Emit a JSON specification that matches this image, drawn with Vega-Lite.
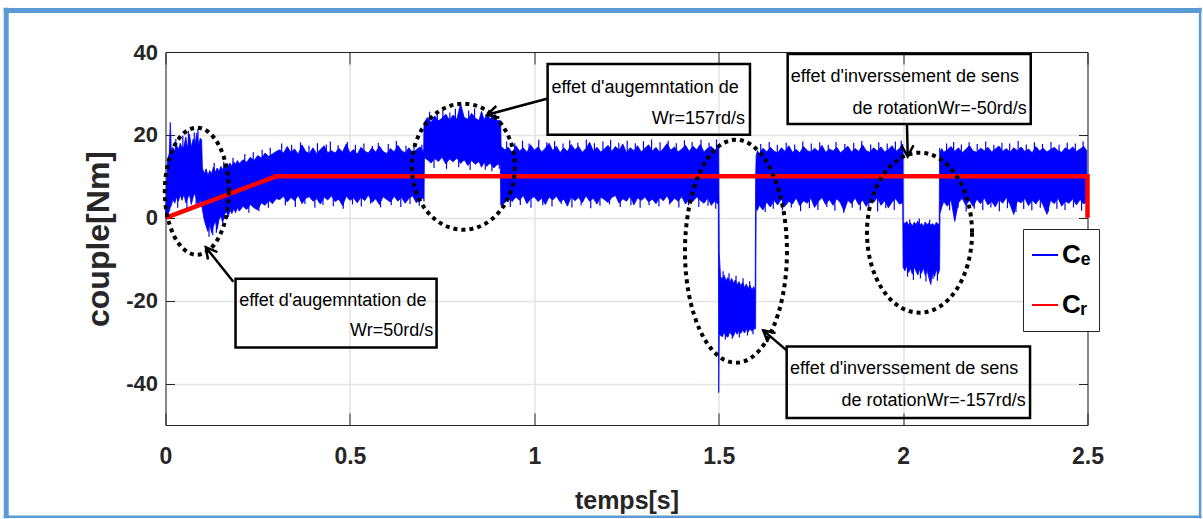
{
  "$schema": "https://vega.github.io/schema/vega-lite/v6.json",
  "width": 922,
  "height": 373,
  "autosize": {"type": "none"},
  "padding": {"left": 165.5, "top": 52, "right": 115.5, "bottom": 94},
  "background": "white",
  "config": {"view": {"stroke": null}, "font": "Liberation Sans"},
  "datasets": {
    "frame": [
      {"side": "top", "t": -0.4386, "v": 50.04, "t2": 2.8093, "v2": 50.04},
      {"side": "left", "t": -0.4318, "v": 50.69, "t2": -0.4318, "v2": -72.5},
      {"side": "right", "t": 2.8053, "v": 50.69, "t2": 2.8053, "v2": -72.5},
      {"side": "bottom", "t": -0.4386, "v": -72.13, "t2": 2.8093, "v2": -72.13}
    ],
    "ce": [
      {"t": 0, "lo": 0, "hi": 0.5},
      {"t": 0.003, "lo": 0.2, "hi": 8},
      {"t": 0.006, "lo": 1, "hi": 14},
      {"t": 0.01, "lo": 1.5, "hi": 15.5},
      {"t": 0.013, "lo": 2.5, "hi": 23},
      {"t": 0.016, "lo": 3, "hi": 16},
      {"t": 0.02, "lo": 4.5, "hi": 17},
      {"t": 0.025, "lo": 3.5, "hi": 16.2},
      {"t": 0.03, "lo": 5, "hi": 17.5},
      {"t": 0.035, "lo": 4, "hi": 16.4},
      {"t": 0.04, "lo": 5.5, "hi": 18},
      {"t": 0.045, "lo": 4.2, "hi": 16.8},
      {"t": 0.05, "lo": 5.8, "hi": 17.2},
      {"t": 0.055, "lo": 3.6, "hi": 19.5},
      {"t": 0.06, "lo": 4.8, "hi": 16.6},
      {"t": 0.065, "lo": 5.6, "hi": 20.2},
      {"t": 0.07, "lo": 3.2, "hi": 17},
      {"t": 0.075, "lo": 5, "hi": 19},
      {"t": 0.08, "lo": 6, "hi": 17.8},
      {"t": 0.085, "lo": 4, "hi": 20.5},
      {"t": 0.09, "lo": 2.6, "hi": 17.4},
      {"t": 0.094, "lo": 4.5, "hi": 19.2},
      {"t": 0.098, "lo": 3, "hi": 18.8},
      {"t": 0.1, "lo": 2, "hi": 12},
      {"t": 0.105, "lo": -0.5, "hi": 10.6},
      {"t": 0.11, "lo": -2, "hi": 11.8},
      {"t": 0.115, "lo": -3.3, "hi": 10.2},
      {"t": 0.12, "lo": -1.5, "hi": 11.4},
      {"t": 0.125, "lo": -3.6, "hi": 10.6},
      {"t": 0.13, "lo": -2, "hi": 12.2},
      {"t": 0.135, "lo": -0.8, "hi": 11},
      {"t": 0.14, "lo": -2.8, "hi": 12},
      {"t": 0.145, "lo": -0.5, "hi": 11.2},
      {"t": 0.15, "lo": 0.5, "hi": 12.4},
      {"t": 0.155, "lo": -1.2, "hi": 11.6},
      {"t": 0.16, "lo": 0.8, "hi": 12.8},
      {"t": 0.165, "lo": 1.5, "hi": 11.9},
      {"t": 0.17, "lo": 0.2, "hi": 12.6},
      {"t": 0.175, "lo": 1.8, "hi": 13.2},
      {"t": 0.18, "lo": 1, "hi": 12.4},
      {"t": 0.185, "lo": 2.2, "hi": 13.5},
      {"t": 0.19, "lo": 1.2, "hi": 12.9},
      {"t": 0.195, "lo": 2.5, "hi": 13.8},
      {"t": 0.2, "lo": 1.6, "hi": 13.1},
      {"t": 0.21, "lo": 2.8, "hi": 14},
      {"t": 0.22, "lo": 2, "hi": 13.4},
      {"t": 0.23, "lo": 3.2, "hi": 14.6},
      {"t": 0.24, "lo": 2.4, "hi": 13.8},
      {"t": 0.25, "lo": 1.9, "hi": 15},
      {"t": 0.26, "lo": 3.6, "hi": 14.4},
      {"t": 0.27, "lo": 3, "hi": 15.6},
      {"t": 0.28, "lo": 4.2, "hi": 14.8},
      {"t": 0.29, "lo": 3.4, "hi": 15.4},
      {"t": 0.3, "lo": 4.6, "hi": 16},
      {"t": 0.31, "lo": 4.4, "hi": 16.4},
      {"t": 0.32, "lo": 5.2, "hi": 15.6},
      {"t": 0.33, "lo": 3.8, "hi": 17.2},
      {"t": 0.34, "lo": 4.9, "hi": 15.8},
      {"t": 0.35, "lo": 4.1, "hi": 16.6},
      {"t": 0.36, "lo": 5.4, "hi": 15.3},
      {"t": 0.37, "lo": 3.4, "hi": 17.6},
      {"t": 0.38, "lo": 4.7, "hi": 16},
      {"t": 0.39, "lo": 5.1, "hi": 15.5},
      {"t": 0.4, "lo": 4, "hi": 16.9},
      {"t": 0.41, "lo": 4.6, "hi": 15.4},
      {"t": 0.42, "lo": 3.3, "hi": 16.5},
      {"t": 0.43, "lo": 5, "hi": 17.4},
      {"t": 0.44, "lo": 4.3, "hi": 15.7},
      {"t": 0.45, "lo": 5.3, "hi": 16.2},
      {"t": 0.46, "lo": 3.9, "hi": 15.6},
      {"t": 0.47, "lo": 4.5, "hi": 16.8},
      {"t": 0.48, "lo": 2.9, "hi": 15.9},
      {"t": 0.49, "lo": 5.2, "hi": 17.8},
      {"t": 0.5, "lo": 4.2, "hi": 15.7},
      {"t": 0.51, "lo": 4.8, "hi": 16.5},
      {"t": 0.52, "lo": 3.6, "hi": 15.3},
      {"t": 0.53, "lo": 5, "hi": 17},
      {"t": 0.54, "lo": 4.1, "hi": 16.1},
      {"t": 0.55, "lo": 5.5, "hi": 15.6},
      {"t": 0.56, "lo": 3.7, "hi": 16.9},
      {"t": 0.57, "lo": 4.6, "hi": 15.8},
      {"t": 0.58, "lo": 3.2, "hi": 17.3},
      {"t": 0.59, "lo": 5.1, "hi": 16},
      {"t": 0.6, "lo": 4.4, "hi": 15.5},
      {"t": 0.61, "lo": 3.8, "hi": 16.7},
      {"t": 0.62, "lo": 5.2, "hi": 15.9},
      {"t": 0.63, "lo": 4, "hi": 17.5},
      {"t": 0.64, "lo": 4.9, "hi": 16.2},
      {"t": 0.65, "lo": 3.5, "hi": 15.7},
      {"t": 0.66, "lo": 4.7, "hi": 16.9},
      {"t": 0.67, "lo": 5.3, "hi": 15.6},
      {"t": 0.68, "lo": 3.6, "hi": 16.4},
      {"t": 0.69, "lo": 4.5, "hi": 17.1},
      {"t": 0.7, "lo": 4.8, "hi": 16},
      {"t": 0.701, "lo": 4, "hi": 23},
      {"t": 0.702, "lo": 14.5, "hi": 23},
      {"t": 0.71, "lo": 14, "hi": 24.2},
      {"t": 0.72, "lo": 13.2, "hi": 23},
      {"t": 0.73, "lo": 14.3, "hi": 24.6},
      {"t": 0.74, "lo": 13.6, "hi": 23.4},
      {"t": 0.75, "lo": 14.6, "hi": 24},
      {"t": 0.76, "lo": 13, "hi": 25},
      {"t": 0.77, "lo": 14.2, "hi": 23.6},
      {"t": 0.78, "lo": 13.5, "hi": 24.8},
      {"t": 0.79, "lo": 14.4, "hi": 23.8},
      {"t": 0.8, "lo": 13.1, "hi": 27.5},
      {"t": 0.81, "lo": 14, "hi": 24.2},
      {"t": 0.82, "lo": 12.6, "hi": 23.8},
      {"t": 0.83, "lo": 13.8, "hi": 25.2},
      {"t": 0.84, "lo": 12.9, "hi": 24},
      {"t": 0.85, "lo": 13.6, "hi": 23.5},
      {"t": 0.857, "lo": 12.2, "hi": 25.7},
      {"t": 0.864, "lo": 13.4, "hi": 23.6},
      {"t": 0.871, "lo": 12.4, "hi": 25},
      {"t": 0.88, "lo": 13.2, "hi": 23.9},
      {"t": 0.89, "lo": 12, "hi": 24.6},
      {"t": 0.9, "lo": 12.9, "hi": 23.4},
      {"t": 0.908, "lo": 12.8, "hi": 23.5},
      {"t": 0.909, "lo": 3, "hi": 23},
      {"t": 0.91, "lo": 3, "hi": 17.2},
      {"t": 0.92, "lo": 3.6, "hi": 16.4},
      {"t": 0.93, "lo": 4.8, "hi": 17},
      {"t": 0.94, "lo": 3.9, "hi": 15.6},
      {"t": 0.95, "lo": 5, "hi": 17.4},
      {"t": 0.96, "lo": 4.2, "hi": 16.1},
      {"t": 0.97, "lo": 5.4, "hi": 16.9},
      {"t": 0.98, "lo": 3.4, "hi": 15.8},
      {"t": 0.99, "lo": 4.6, "hi": 17.6},
      {"t": 1, "lo": 5.1, "hi": 16.3},
      {"t": 1.01, "lo": 3.9, "hi": 17.1},
      {"t": 1.02, "lo": 4.7, "hi": 15.9},
      {"t": 1.03, "lo": 3.2, "hi": 16.8},
      {"t": 1.04, "lo": 5, "hi": 18},
      {"t": 1.05, "lo": 4.3, "hi": 16.2},
      {"t": 1.06, "lo": 5.2, "hi": 17.3},
      {"t": 1.07, "lo": 3.8, "hi": 15.7},
      {"t": 1.08, "lo": 4.5, "hi": 16.9},
      {"t": 1.09, "lo": 2.8, "hi": 16},
      {"t": 1.1, "lo": 5.1, "hi": 17.7},
      {"t": 1.11, "lo": 4.1, "hi": 16.4},
      {"t": 1.12, "lo": 4.9, "hi": 17.2},
      {"t": 1.13, "lo": 3.6, "hi": 15.8},
      {"t": 1.14, "lo": 5.3, "hi": 16.7},
      {"t": 1.15, "lo": 4, "hi": 18.2},
      {"t": 1.16, "lo": 4.7, "hi": 16.1},
      {"t": 1.17, "lo": 3.3, "hi": 17},
      {"t": 1.18, "lo": 5, "hi": 15.9},
      {"t": 1.19, "lo": 4.4, "hi": 16.6},
      {"t": 1.2, "lo": 3.7, "hi": 17.5},
      {"t": 1.21, "lo": 4.9, "hi": 16},
      {"t": 1.22, "lo": 5.4, "hi": 17.2},
      {"t": 1.23, "lo": 3.5, "hi": 16.3},
      {"t": 1.24, "lo": 4.6, "hi": 17.8},
      {"t": 1.25, "lo": 4, "hi": 15.7},
      {"t": 1.26, "lo": 5.2, "hi": 16.9},
      {"t": 1.27, "lo": 3.1, "hi": 16.2},
      {"t": 1.28, "lo": 4.8, "hi": 17.4},
      {"t": 1.29, "lo": 4.2, "hi": 15.9},
      {"t": 1.3, "lo": 5, "hi": 16.8},
      {"t": 1.31, "lo": 3.8, "hi": 17.6},
      {"t": 1.32, "lo": 4.5, "hi": 16.1},
      {"t": 1.33, "lo": 3.4, "hi": 17},
      {"t": 1.34, "lo": 4.9, "hi": 15.8},
      {"t": 1.35, "lo": 4.1, "hi": 16.7},
      {"t": 1.36, "lo": 5.3, "hi": 17.9},
      {"t": 1.37, "lo": 3.6, "hi": 16.3},
      {"t": 1.38, "lo": 4.7, "hi": 17.1},
      {"t": 1.39, "lo": 4, "hi": 15.9},
      {"t": 1.4, "lo": 5.1, "hi": 16.6},
      {"t": 1.41, "lo": 3.3, "hi": 17.5},
      {"t": 1.42, "lo": 4.6, "hi": 16},
      {"t": 1.43, "lo": 3.9, "hi": 17.3},
      {"t": 1.44, "lo": 5, "hi": 16.4},
      {"t": 1.45, "lo": 4.2, "hi": 17.7},
      {"t": 1.46, "lo": 3.5, "hi": 15.9},
      {"t": 1.47, "lo": 4.8, "hi": 16.8},
      {"t": 1.48, "lo": 3, "hi": 17.2},
      {"t": 1.49, "lo": 4.1, "hi": 16.1},
      {"t": 1.499, "lo": 3.2, "hi": 17.6},
      {"t": 1.5, "lo": -42.2, "hi": 16.5},
      {"t": 1.5015, "lo": -28, "hi": -8.5},
      {"t": 1.505, "lo": -28.4, "hi": -14.2},
      {"t": 1.51, "lo": -28.7, "hi": -14.8},
      {"t": 1.515, "lo": -27.6, "hi": -13.9},
      {"t": 1.52, "lo": -28.5, "hi": -15.2},
      {"t": 1.525, "lo": -28.8, "hi": -14.4},
      {"t": 1.53, "lo": -27.5, "hi": -15.6},
      {"t": 1.535, "lo": -28.3, "hi": -14.6},
      {"t": 1.54, "lo": -28.6, "hi": -15.8},
      {"t": 1.545, "lo": -27.4, "hi": -15},
      {"t": 1.55, "lo": -28.1, "hi": -16.2},
      {"t": 1.555, "lo": -27.2, "hi": -15.4},
      {"t": 1.56, "lo": -27.9, "hi": -16.4},
      {"t": 1.565, "lo": -27.1, "hi": -15.6},
      {"t": 1.57, "lo": -27.8, "hi": -16.8},
      {"t": 1.575, "lo": -26.9, "hi": -16},
      {"t": 1.58, "lo": -27.5, "hi": -17},
      {"t": 1.585, "lo": -26.8, "hi": -16.3},
      {"t": 1.59, "lo": -27.4, "hi": -17.4},
      {"t": 1.595, "lo": -26.7, "hi": -16.6},
      {"t": 1.599, "lo": -26.9, "hi": -17.8},
      {"t": 1.6, "lo": -26.5, "hi": 8.5},
      {"t": 1.6015, "lo": 2, "hi": 15},
      {"t": 1.605, "lo": 1.8, "hi": 16.2},
      {"t": 1.61, "lo": 3, "hi": 15.4},
      {"t": 1.62, "lo": 1.9, "hi": 16.8},
      {"t": 1.63, "lo": 3.8, "hi": 15.9},
      {"t": 1.64, "lo": 2.6, "hi": 17},
      {"t": 1.65, "lo": 4.2, "hi": 16.1},
      {"t": 1.66, "lo": 3.1, "hi": 15.6},
      {"t": 1.67, "lo": 4.6, "hi": 16.9},
      {"t": 1.68, "lo": 2.8, "hi": 16},
      {"t": 1.69, "lo": 4, "hi": 17.4},
      {"t": 1.7, "lo": 3.3, "hi": 15.8},
      {"t": 1.71, "lo": 4.8, "hi": 16.5},
      {"t": 1.72, "lo": 2.9, "hi": 15.7},
      {"t": 1.73, "lo": 4.1, "hi": 17.2},
      {"t": 1.74, "lo": 3.5, "hi": 16.2},
      {"t": 1.75, "lo": 4.7, "hi": 15.9},
      {"t": 1.76, "lo": 2.5, "hi": 16.8},
      {"t": 1.77, "lo": 3.9, "hi": 16},
      {"t": 1.78, "lo": 4.9, "hi": 17.5},
      {"t": 1.79, "lo": 3.2, "hi": 15.8},
      {"t": 1.8, "lo": 4.4, "hi": 16.6},
      {"t": 1.81, "lo": 3, "hi": 16.1},
      {"t": 1.82, "lo": 4.6, "hi": 17},
      {"t": 1.83, "lo": 3.6, "hi": 15.7},
      {"t": 1.84, "lo": 1.6, "hi": 16.4},
      {"t": 1.85, "lo": 4.2, "hi": 17.3},
      {"t": 1.86, "lo": 3.4, "hi": 15.9},
      {"t": 1.87, "lo": 4.8, "hi": 16.7},
      {"t": 1.88, "lo": 3.1, "hi": 16},
      {"t": 1.89, "lo": 4.3, "hi": 17.6},
      {"t": 1.9, "lo": 2.7, "hi": 16.2},
      {"t": 1.91, "lo": 4.5, "hi": 15.8},
      {"t": 1.92, "lo": 3.7, "hi": 16.9},
      {"t": 1.93, "lo": 4.9, "hi": 16.1},
      {"t": 1.94, "lo": 3, "hi": 17.1},
      {"t": 1.95, "lo": 4.1, "hi": 15.9},
      {"t": 1.96, "lo": 2.4, "hi": 16.5},
      {"t": 1.97, "lo": 3.8, "hi": 17.4},
      {"t": 1.98, "lo": 4.6, "hi": 16},
      {"t": 1.99, "lo": 3.3, "hi": 16.7},
      {"t": 1.999, "lo": 3.6, "hi": 17.8},
      {"t": 2, "lo": -12, "hi": 16},
      {"t": 2.0005, "lo": -12, "hi": -1},
      {"t": 2.005, "lo": -12.8, "hi": -1.4},
      {"t": 2.01, "lo": -11.6, "hi": -0.9},
      {"t": 2.015, "lo": -13.2, "hi": -1.8},
      {"t": 2.02, "lo": -12.2, "hi": -1.2},
      {"t": 2.025, "lo": -13.6, "hi": -2},
      {"t": 2.03, "lo": -11.9, "hi": -1.1},
      {"t": 2.035, "lo": -12.9, "hi": -1.6},
      {"t": 2.04, "lo": -13.8, "hi": -0.8},
      {"t": 2.045, "lo": -12.4, "hi": -1.9},
      {"t": 2.05, "lo": -13.4, "hi": -1.3},
      {"t": 2.055, "lo": -12, "hi": -2.1},
      {"t": 2.06, "lo": -13.9, "hi": -1},
      {"t": 2.065, "lo": -12.6, "hi": -1.7},
      {"t": 2.07, "lo": -14.5, "hi": -1.2},
      {"t": 2.075, "lo": -16.1, "hi": -1.8},
      {"t": 2.08, "lo": -13, "hi": -1.4},
      {"t": 2.085, "lo": -14.2, "hi": -2},
      {"t": 2.09, "lo": -12.5, "hi": -1.1},
      {"t": 2.095, "lo": -13.6, "hi": -1.6},
      {"t": 2.098, "lo": -12.8, "hi": -1.3},
      {"t": 2.099, "lo": -12.5, "hi": 16.8},
      {"t": 2.1, "lo": 1, "hi": 15.9},
      {"t": 2.105, "lo": 2.6, "hi": 16.7},
      {"t": 2.11, "lo": 3.9, "hi": 15.8},
      {"t": 2.12, "lo": 2.8, "hi": 16.4},
      {"t": 2.13, "lo": 4.3, "hi": 17.2},
      {"t": 2.14, "lo": -0.9, "hi": 16},
      {"t": 2.15, "lo": 3.6, "hi": 16.9},
      {"t": 2.16, "lo": 4.7, "hi": 15.7},
      {"t": 2.17, "lo": 3, "hi": 16.5},
      {"t": 2.18, "lo": 4.2, "hi": 17.4},
      {"t": 2.19, "lo": 2.7, "hi": 16.1},
      {"t": 2.2, "lo": 4.5, "hi": 15.8},
      {"t": 2.21, "lo": 3.4, "hi": 16.8},
      {"t": 2.22, "lo": 4.8, "hi": 16.2},
      {"t": 2.23, "lo": 3.1, "hi": 17},
      {"t": 2.24, "lo": 4, "hi": 15.9},
      {"t": 2.25, "lo": 2.6, "hi": 16.6},
      {"t": 2.26, "lo": 4.4, "hi": 17.3},
      {"t": 2.27, "lo": 3.5, "hi": 16},
      {"t": 2.28, "lo": 4.9, "hi": 16.7},
      {"t": 2.29, "lo": 3.2, "hi": 15.8},
      {"t": 2.3, "lo": 0.8, "hi": 16.9},
      {"t": 2.31, "lo": 4.1, "hi": 16.2},
      {"t": 2.32, "lo": 3.6, "hi": 17.1},
      {"t": 2.33, "lo": 4.7, "hi": 16},
      {"t": 2.34, "lo": 2.9, "hi": 16.6},
      {"t": 2.35, "lo": 4.3, "hi": 15.7},
      {"t": 2.36, "lo": 3.3, "hi": 17.2},
      {"t": 2.37, "lo": 4.6, "hi": 16.1},
      {"t": 2.38, "lo": 3, "hi": 16.8},
      {"t": 2.39, "lo": 0.8, "hi": 15.9},
      {"t": 2.4, "lo": 4.2, "hi": 16.5},
      {"t": 2.41, "lo": 3.4, "hi": 17},
      {"t": 2.42, "lo": 4.8, "hi": 16.2},
      {"t": 2.43, "lo": 2.8, "hi": 15.8},
      {"t": 2.44, "lo": 4, "hi": 16.9},
      {"t": 2.45, "lo": 3.5, "hi": 16.3},
      {"t": 2.46, "lo": 4.6, "hi": 17.1},
      {"t": 2.47, "lo": 3.1, "hi": 16},
      {"t": 2.48, "lo": 4.4, "hi": 16.6},
      {"t": 2.49, "lo": 3.3, "hi": 17.2},
      {"t": 2.498, "lo": 4, "hi": 16.2}
    ],
    "spikes": [
      {"t": 0.028, "a": 12, "b": 19.0}, {"t": 0.047, "a": 12, "b": 19.8}, {"t": 0.062, "a": 12, "b": 21.0},
      {"t": 0.078, "a": 12, "b": 20.6}, {"t": 0.088, "a": 12, "b": 21.5},
      {"t": 0.033, "a": 8, "b": 2.4}, {"t": 0.058, "a": 8, "b": 2.0}, {"t": 0.083, "a": 8, "b": 2.6},
      {"t": 0.118, "a": 4, "b": -4.6}, {"t": 0.128, "a": 4, "b": -4.2}, {"t": 0.138, "a": 4, "b": -3.6},
      {"t": 0.132, "a": 8, "b": 13.2}, {"t": 0.158, "a": 8, "b": 13.5}, {"t": 0.183, "a": 8, "b": 14.5},
      {"t": 0.215, "a": 10, "b": 15.4}, {"t": 0.238, "a": 10, "b": 15.8}, {"t": 0.262, "a": 10, "b": 16.4},
      {"t": 0.284, "a": 10, "b": 16.9}, {"t": 0.226, "a": 7, "b": 1.2}, {"t": 0.253, "a": 7, "b": 1.6},
      {"t": 0.279, "a": 7, "b": 2.4},
      {"t": 0.315, "a": 12, "b": 17.9}, {"t": 0.342, "a": 12, "b": 17.6}, {"t": 0.366, "a": 12, "b": 18.2},
      {"t": 0.389, "a": 12, "b": 17.4}, {"t": 0.412, "a": 12, "b": 18.0}, {"t": 0.436, "a": 12, "b": 17.7},
      {"t": 0.447, "a": 12, "b": 18.4}, {"t": 0.468, "a": 12, "b": 17.5}, {"t": 0.493, "a": 12, "b": 18.3},
      {"t": 0.515, "a": 12, "b": 17.6}, {"t": 0.538, "a": 12, "b": 17.9}, {"t": 0.561, "a": 12, "b": 17.3},
      {"t": 0.577, "a": 12, "b": 18.1}, {"t": 0.604, "a": 12, "b": 17.8}, {"t": 0.626, "a": 12, "b": 18.5},
      {"t": 0.652, "a": 12, "b": 17.4}, {"t": 0.674, "a": 12, "b": 18.0}, {"t": 0.695, "a": 12, "b": 17.6},
      {"t": 0.325, "a": 8, "b": 3.0}, {"t": 0.352, "a": 8, "b": 2.6}, {"t": 0.378, "a": 8, "b": 3.3},
      {"t": 0.405, "a": 8, "b": 2.4}, {"t": 0.427, "a": 8, "b": 3.1}, {"t": 0.455, "a": 8, "b": 2.8},
      {"t": 0.482, "a": 8, "b": 2.2}, {"t": 0.507, "a": 8, "b": 3.2}, {"t": 0.531, "a": 8, "b": 2.7},
      {"t": 0.556, "a": 8, "b": 3.4}, {"t": 0.583, "a": 8, "b": 2.5}, {"t": 0.612, "a": 8, "b": 3.0},
      {"t": 0.638, "a": 8, "b": 2.6}, {"t": 0.663, "a": 8, "b": 3.3}, {"t": 0.688, "a": 8, "b": 2.9},
      {"t": 0.716, "a": 19, "b": 25.6}, {"t": 0.737, "a": 19, "b": 25.2}, {"t": 0.752, "a": 19, "b": 26.0},
      {"t": 0.771, "a": 19, "b": 25.4}, {"t": 0.786, "a": 19, "b": 26.3}, {"t": 0.822, "a": 19, "b": 25.9},
      {"t": 0.838, "a": 19, "b": 26.4}, {"t": 0.893, "a": 19, "b": 25.5},
      {"t": 0.728, "a": 18, "b": 12.0}, {"t": 0.762, "a": 18, "b": 11.8}, {"t": 0.795, "a": 18, "b": 12.2},
      {"t": 0.826, "a": 18, "b": 11.5}, {"t": 0.867, "a": 18, "b": 11.6}, {"t": 0.885, "a": 18, "b": 11.2},
      {"t": 0.905, "a": 18, "b": 11.8},
      {"t": 0.925, "a": 12, "b": 18.4}, {"t": 0.947, "a": 12, "b": 18.0}, {"t": 0.968, "a": 12, "b": 18.6},
      {"t": 0.986, "a": 12, "b": 17.9}, {"t": 1.012, "a": 12, "b": 18.8}, {"t": 1.034, "a": 12, "b": 18.2},
      {"t": 1.055, "a": 12, "b": 18.5}, {"t": 1.078, "a": 12, "b": 17.9}, {"t": 1.096, "a": 12, "b": 18.7},
      {"t": 1.118, "a": 12, "b": 18.1}, {"t": 1.141, "a": 12, "b": 18.9}, {"t": 1.163, "a": 12, "b": 18.0},
      {"t": 1.186, "a": 12, "b": 18.4}, {"t": 1.207, "a": 12, "b": 18.8}, {"t": 1.229, "a": 12, "b": 18.1},
      {"t": 1.252, "a": 12, "b": 18.6}, {"t": 1.274, "a": 12, "b": 18.0}, {"t": 1.296, "a": 12, "b": 18.5},
      {"t": 1.318, "a": 12, "b": 18.9}, {"t": 1.341, "a": 12, "b": 18.2}, {"t": 1.363, "a": 12, "b": 18.6},
      {"t": 1.385, "a": 12, "b": 18.0}, {"t": 1.407, "a": 12, "b": 18.7}, {"t": 1.428, "a": 12, "b": 18.3},
      {"t": 1.452, "a": 12, "b": 18.8}, {"t": 1.474, "a": 12, "b": 18.1}, {"t": 1.494, "a": 12, "b": 18.9},
      {"t": 0.935, "a": 8, "b": 2.6}, {"t": 0.962, "a": 8, "b": 3.1}, {"t": 0.991, "a": 8, "b": 2.4},
      {"t": 1.023, "a": 8, "b": 3.0}, {"t": 1.048, "a": 8, "b": 2.7}, {"t": 1.073, "a": 8, "b": 3.3},
      {"t": 1.102, "a": 8, "b": 2.5}, {"t": 1.127, "a": 8, "b": 3.0}, {"t": 1.153, "a": 8, "b": 2.3},
      {"t": 1.178, "a": 8, "b": 2.9}, {"t": 1.204, "a": 8, "b": 3.2}, {"t": 1.233, "a": 8, "b": 2.6},
      {"t": 1.262, "a": 8, "b": 3.0}, {"t": 1.287, "a": 8, "b": 2.4}, {"t": 1.311, "a": 8, "b": 3.1},
      {"t": 1.338, "a": 8, "b": 2.7}, {"t": 1.367, "a": 8, "b": 3.2}, {"t": 1.392, "a": 8, "b": 2.5},
      {"t": 1.418, "a": 8, "b": 3.0}, {"t": 1.446, "a": 8, "b": 2.6}, {"t": 1.471, "a": 8, "b": 2.9},
      {"t": 1.492, "a": 8, "b": 2.2},
      {"t": 1.512, "a": -21, "b": -12.9}, {"t": 1.528, "a": -21, "b": -13.4}, {"t": 1.547, "a": -21, "b": -14.0},
      {"t": 1.566, "a": -21, "b": -14.6}, {"t": 1.584, "a": -21, "b": -15.3},
      {"t": 1.518, "a": -21, "b": -29.4}, {"t": 1.537, "a": -21, "b": -29.2}, {"t": 1.556, "a": -21, "b": -28.9},
      {"t": 1.578, "a": -21, "b": -28.4}, {"t": 1.593, "a": -21, "b": -28.1},
      {"t": 1.614, "a": 12, "b": 17.8}, {"t": 1.637, "a": 12, "b": 18.3}, {"t": 1.659, "a": 12, "b": 17.6},
      {"t": 1.683, "a": 12, "b": 18.1}, {"t": 1.706, "a": 12, "b": 17.7}, {"t": 1.728, "a": 12, "b": 18.4},
      {"t": 1.751, "a": 12, "b": 17.9}, {"t": 1.774, "a": 12, "b": 18.2}, {"t": 1.797, "a": 12, "b": 17.6},
      {"t": 1.818, "a": 12, "b": 18.3}, {"t": 1.842, "a": 12, "b": 17.8}, {"t": 1.866, "a": 12, "b": 18.1},
      {"t": 1.888, "a": 12, "b": 18.5}, {"t": 1.912, "a": 12, "b": 17.7}, {"t": 1.934, "a": 12, "b": 18.2},
      {"t": 1.957, "a": 12, "b": 17.9}, {"t": 1.979, "a": 12, "b": 18.4}, {"t": 1.995, "a": 12, "b": 18.6},
      {"t": 1.626, "a": 8, "b": 1.4}, {"t": 1.648, "a": 8, "b": 2.2}, {"t": 1.673, "a": 8, "b": 1.8},
      {"t": 1.697, "a": 8, "b": 2.5}, {"t": 1.722, "a": 8, "b": 1.6}, {"t": 1.746, "a": 8, "b": 2.3},
      {"t": 1.769, "a": 8, "b": 1.9}, {"t": 1.793, "a": 8, "b": 2.6}, {"t": 1.815, "a": 8, "b": 1.7},
      {"t": 1.839, "a": 8, "b": 1.2}, {"t": 1.862, "a": 8, "b": 2.4}, {"t": 1.884, "a": 8, "b": 1.8},
      {"t": 1.907, "a": 8, "b": 2.2}, {"t": 1.931, "a": 8, "b": 1.5}, {"t": 1.953, "a": 8, "b": 2.3},
      {"t": 1.976, "a": 8, "b": 1.9},
      {"t": 2.012, "a": -7, "b": -14.2}, {"t": 2.028, "a": -7, "b": -15.0}, {"t": 2.047, "a": -7, "b": -14.6},
      {"t": 2.062, "a": -7, "b": -15.4}, {"t": 2.081, "a": -7, "b": -14.8}, {"t": 2.093, "a": -7, "b": -15.2},
      {"t": 2.018, "a": -7, "b": -0.4}, {"t": 2.044, "a": -7, "b": -0.2}, {"t": 2.072, "a": -7, "b": -0.5},
      {"t": 2.118, "a": 12, "b": 17.9}, {"t": 2.137, "a": 12, "b": 18.3}, {"t": 2.158, "a": 12, "b": 17.7},
      {"t": 2.179, "a": 12, "b": 18.2}, {"t": 2.201, "a": 12, "b": 17.8}, {"t": 2.224, "a": 12, "b": 18.4},
      {"t": 2.246, "a": 12, "b": 17.6}, {"t": 2.268, "a": 12, "b": 18.1}, {"t": 2.289, "a": 12, "b": 17.9},
      {"t": 2.312, "a": 12, "b": 18.5}, {"t": 2.334, "a": 12, "b": 17.7}, {"t": 2.356, "a": 12, "b": 18.2},
      {"t": 2.378, "a": 12, "b": 17.8}, {"t": 2.401, "a": 12, "b": 18.3}, {"t": 2.423, "a": 12, "b": 17.6},
      {"t": 2.445, "a": 12, "b": 18.1}, {"t": 2.467, "a": 12, "b": 17.9}, {"t": 2.488, "a": 12, "b": 18.4},
      {"t": 2.126, "a": 8, "b": 1.8}, {"t": 2.149, "a": 8, "b": 2.4}, {"t": 2.171, "a": 8, "b": 1.5},
      {"t": 2.193, "a": 8, "b": 2.2}, {"t": 2.216, "a": 8, "b": 1.9}, {"t": 2.238, "a": 8, "b": 2.5},
      {"t": 2.261, "a": 8, "b": 1.6}, {"t": 2.283, "a": 8, "b": 2.3}, {"t": 2.306, "a": 8, "b": 1.4},
      {"t": 2.327, "a": 8, "b": 2.1}, {"t": 2.349, "a": 8, "b": 1.8}, {"t": 2.372, "a": 8, "b": 2.4},
      {"t": 2.394, "a": 8, "b": 1.5}, {"t": 2.417, "a": 8, "b": 2.2}, {"t": 2.439, "a": 8, "b": 1.9},
      {"t": 2.462, "a": 8, "b": 2.5}, {"t": 2.484, "a": 8, "b": 1.7}
    ],
    "cr": [
      {"k": 0, "t": 0, "v": 0},
      {"k": 1, "t": 0.3, "v": 10},
      {"k": 2, "t": 2.5, "v": 10},
      {"k": 3, "t": 2.5, "v": 0}
    ],
    "rings": [
      {"id": 1, "t": 0.0849, "v": 6.41},
      {"id": 2, "t": 0.8077, "v": 12.32},
      {"id": 3, "t": 1.5468, "v": -8.07},
      {"id": 4, "t": 2.0445, "v": -3.6}
    ],
    "arrows": [
      {"t": 1.0342, "v": 28.73, "t2": 0.8723, "v2": 24.87},
      {"t": 2.0105, "v": 22.63, "t2": 2.0125, "v2": 14.81},
      {"t": 0.1839, "v": -15.42, "t2": 0.1093, "v2": -7.1},
      {"t": 1.6843, "v": -32.0, "t2": 1.6208, "v2": -27.17}
    ],
    "boxes": [
      {"t": 1.0361, "t2": 1.5848, "v": 37.1, "v2": 20.02},
      {"t": 1.687, "t2": 2.3461, "v": 39.52, "v2": 22.63},
      {"t": 0.1899, "t2": 0.735, "v": -14.7, "v2": -31.28},
      {"t": 1.6843, "t2": 2.3442, "v": -31.03, "v2": -48.31}
    ],
    "notes": [
      {"line": 1, "t": 1.0464, "v": 30.1, "txt": "effet d'augemntation de"},
      {"line": 2, "t": 1.5712, "v": 22.7, "txt": "Wr=157rd/s"},
      {"line": 1, "t": 1.6954, "v": 32.67, "txt": "effet d'inverssement de sens"},
      {"line": 2, "t": 2.3352, "v": 25.04, "txt": "de rotationWr=-50rd/s"},
      {"line": 1, "t": 0.1997, "v": -21.38, "txt": "effet d'augemntation de"},
      {"line": 2, "t": 0.7258, "v": -28.45, "txt": "Wr=50rd/s"},
      {"line": 1, "t": 1.6932, "v": -37.62, "txt": "effet d'inverssement de sens"},
      {"line": 2, "t": 2.3325, "v": -45.34, "txt": "de rotationWr=-157rd/s"}
    ]
  },
  "resolve": {"axis": {"x": "independent", "y": "independent"}},
  "layer": [
    {
      "data": {"name": "frame"},
      "transform": [{"filter": "datum.side == 'top' || datum.side == 'left'"}],
      "mark": {"type": "rule", "color": "#5b9bd5", "strokeWidth": 5},
      "encoding": {
        "x": {"field": "t", "type": "quantitative", "scale": {"domain": [0, 2.5], "nice": false, "zero": false}, "axis": null},
        "y": {"field": "v", "type": "quantitative", "scale": {"domain": [-50, 40], "nice": false, "zero": false}, "axis": null},
        "x2": {"field": "t2"},
        "y2": {"field": "v2"}
      }
    },
    {
      "data": {"name": "frame"},
      "transform": [{"filter": "datum.side == 'right' || datum.side == 'bottom'"}],
      "mark": {"type": "rule", "color": "#5b9bd5", "strokeWidth": 2.5},
      "encoding": {
        "x": {"field": "t", "type": "quantitative", "scale": {"domain": [0, 2.5], "nice": false, "zero": false}, "axis": null},
        "y": {"field": "v", "type": "quantitative", "scale": {"domain": [-50, 40], "nice": false, "zero": false}, "axis": null},
        "x2": {"field": "t2"},
        "y2": {"field": "v2"}
      }
    },
    {
      "data": {"name": "ce"},
      "mark": {"type": "area", "stroke": "#0000ff", "strokeWidth": 0.8, "opacity": 1},
      "encoding": {
        "x": {
          "field": "t", "type": "quantitative",
          "scale": {"domain": [0, 2.5], "nice": false, "zero": false},
          "axis": {
            "orient": "bottom", "values": [0, 0.5, 1, 1.5, 2, 2.5],
            "labelExpr": "'' + datum.value", "labelFlush": false, "labelOverlap": false,
            "title": "temps[s]",
            "grid": true, "gridColor": "#e3e3e3", "gridWidth": 1.5,
            "tickSize": -12, "tickColor": "#262626", "tickWidth": 1,
            "domainColor": "#262626", "domainWidth": 1,
            "labelFont": "Liberation Sans", "labelFontSize": 23, "labelFontWeight": "bold", "labelColor": "#262626", "labelPadding": 32,
            "titleFont": "Liberation Sans", "titleFontSize": 25, "titleFontWeight": "bold", "titleColor": "#262626", "titlePadding": 20
          }
        },
        "y": {
          "field": "lo", "type": "quantitative",
          "scale": {"domain": [-50, 40], "nice": false, "zero": false},
          "axis": {
            "orient": "left", "values": [-40, -20, 0, 20, 40],
            "labelExpr": "'' + datum.value", "labelOverlap": false,
            "title": "couple[Nm]",
            "grid": true, "gridColor": "#e3e3e3", "gridWidth": 1.5,
            "tickSize": -9, "tickColor": "#262626", "tickWidth": 1,
            "domainColor": "#262626", "domainWidth": 1,
            "labelFont": "Liberation Sans", "labelFontSize": 22, "labelFontWeight": "bold", "labelColor": "#262626", "labelPadding": 17,
            "titleFont": "Liberation Sans", "titleFontSize": 32, "titleFontWeight": "bold", "titleColor": "#262626", "titlePadding": 10
          }
        },
        "y2": {"field": "hi"},
        "color": {
          "datum": "Ce", "type": "nominal",
          "scale": {"domain": ["Ce", "Cr"], "range": ["#0000ff", "#ff0000"]},
          "legend": {
            "orient": "none", "legendX": 857.5, "legendY": 177, "title": null,
            "symbolType": "stroke", "symbolSize": 676, "symbolStrokeWidth": 2,
            "labelExpr": "datum.value == 'Ce' ? 'Cₑ' : 'Cᵣ'",
            "labelFont": "Liberation Sans", "labelFontSize": 26, "labelFontWeight": "bold", "labelColor": "#000000", "labelOffset": 3,
            "padding": 8, "rowPadding": 14, "clipHeight": 36,
            "strokeColor": "#262626", "fillColor": "#ffffff",
            "encode": {
              "symbols": {
                "update": {
                  "stroke": {"signal": "datum.value == 'Cr' ? '#ff0000' : '#0000ff'"},
                  "strokeWidth": {"signal": "datum.value == 'Cr' ? 5 : 2"},
                  "fill": {"value": "transparent"}
                }
              }
            }
          }
        }
      }
    },
    {
      "data": {"name": "spikes"},
      "mark": {"type": "rule", "color": "#0000ff", "strokeWidth": 1.2},
      "encoding": {
        "x": {"field": "t", "type": "quantitative", "scale": {"domain": [0, 2.5], "nice": false, "zero": false}, "axis": null},
        "y": {"field": "a", "type": "quantitative", "scale": {"domain": [-50, 40], "nice": false, "zero": false}, "axis": null},
        "y2": {"field": "b"}
      }
    },
    {
      "data": {"name": "cr"},
      "mark": {"type": "line", "strokeWidth": 4.5},
      "encoding": {
        "x": {
          "field": "t", "type": "quantitative",
          "scale": {"domain": [0, 2.5], "nice": false, "zero": false},
          "axis": {"orient": "top", "values": [0, 0.5, 1, 1.5, 2, 2.5], "labels": false, "grid": false, "title": null, "tickSize": -12, "tickColor": "#262626", "domainColor": "#262626", "domainWidth": 1}
        },
        "y": {
          "field": "v", "type": "quantitative",
          "scale": {"domain": [-50, 40], "nice": false, "zero": false},
          "axis": {"orient": "right", "values": [-40, -20, 0, 20, 40], "labels": false, "grid": false, "title": null, "tickSize": -9, "tickColor": "#262626", "domainColor": "#262626", "domainWidth": 1}
        },
        "order": {"field": "k", "type": "quantitative"},
        "color": {"datum": "Cr", "type": "nominal", "scale": {"domain": ["Ce", "Cr"], "range": ["#0000ff", "#ff0000"]}}
      }
    },
    {
      "data": {"name": "rings"},
      "transform": [{"filter": "datum.id == 1"}],
      "mark": {"type": "point", "shape": "M 0.32 0 C 0.32 0.3507 0.1767 0.635 0 0.635 C -0.1767 0.635 -0.32 0.3507 -0.32 0 C -0.32 -0.3507 -0.1767 -0.635 0 -0.635 C 0.1767 -0.635 0.32 -0.3507 0.32 0 Z", "size": 40000, "filled": false, "stroke": "#000000", "strokeWidth": 4, "strokeDash": [4, 4], "opacity": 1},
      "encoding": {
        "x": {"field": "t", "type": "quantitative", "scale": {"domain": [0, 2.5], "nice": false, "zero": false}, "axis": null},
        "y": {"field": "v", "type": "quantitative", "scale": {"domain": [-50, 40], "nice": false, "zero": false}, "axis": null}
      }
    },
    {
      "data": {"name": "rings"},
      "transform": [{"filter": "datum.id == 2"}],
      "mark": {"type": "point", "shape": "M 0.515 0 C 0.515 0.3479 0.2844 0.63 0 0.63 C -0.2844 0.63 -0.515 0.3479 -0.515 0 C -0.515 -0.3479 -0.2844 -0.63 0 -0.63 C 0.2844 -0.63 0.515 -0.3479 0.515 0 Z", "size": 40000, "filled": false, "stroke": "#000000", "strokeWidth": 4, "strokeDash": [4, 4], "opacity": 1},
      "encoding": {
        "x": {"field": "t", "type": "quantitative", "scale": {"domain": [0, 2.5], "nice": false, "zero": false}, "axis": null},
        "y": {"field": "v", "type": "quantitative", "scale": {"domain": [-50, 40], "nice": false, "zero": false}, "axis": null}
      }
    },
    {
      "data": {"name": "rings"},
      "transform": [{"filter": "datum.id == 3"}],
      "mark": {"type": "point", "shape": "M 0.51 0 C 0.51 0.6158 0.2817 1.115 0 1.115 C -0.2817 1.115 -0.51 0.6158 -0.51 0 C -0.51 -0.6158 -0.2817 -1.115 0 -1.115 C 0.2817 -1.115 0.51 -0.6158 0.51 0 Z", "size": 40000, "filled": false, "stroke": "#000000", "strokeWidth": 4, "strokeDash": [4, 4], "opacity": 1},
      "encoding": {
        "x": {"field": "t", "type": "quantitative", "scale": {"domain": [0, 2.5], "nice": false, "zero": false}, "axis": null},
        "y": {"field": "v", "type": "quantitative", "scale": {"domain": [-50, 40], "nice": false, "zero": false}, "axis": null}
      }
    },
    {
      "data": {"name": "rings"},
      "transform": [{"filter": "datum.id == 4"}],
      "mark": {"type": "point", "shape": "M 0.525 0 C 0.525 0.4418 0.29 0.8 0 0.8 C -0.29 0.8 -0.525 0.4418 -0.525 0 C -0.525 -0.4418 -0.29 -0.8 0 -0.8 C 0.29 -0.8 0.525 -0.4418 0.525 0 Z", "size": 40000, "filled": false, "stroke": "#000000", "strokeWidth": 4, "strokeDash": [4, 4], "opacity": 1},
      "encoding": {
        "x": {"field": "t", "type": "quantitative", "scale": {"domain": [0, 2.5], "nice": false, "zero": false}, "axis": null},
        "y": {"field": "v", "type": "quantitative", "scale": {"domain": [-50, 40], "nice": false, "zero": false}, "axis": null}
      }
    },
    {
      "data": {"name": "arrows"},
      "mark": {"type": "rule", "color": "#000000", "strokeWidth": 2.5},
      "encoding": {
        "x": {"field": "t", "type": "quantitative", "scale": {"domain": [0, 2.5], "nice": false, "zero": false}, "axis": null},
        "y": {"field": "v", "type": "quantitative", "scale": {"domain": [-50, 40], "nice": false, "zero": false}, "axis": null},
        "x2": {"field": "t2"},
        "y2": {"field": "v2"}
      }
    },
    {
      "data": {"name": "arrows"},
      "transform": [{"calculate": "atan2(-(datum.v2 - datum.v) * 4.1444, (datum.t2 - datum.t) * 368.7) * 180 / PI", "as": "heading"}],
      "mark": {"type": "point", "shape": "M -1 -0.55 L 0 0 L -1 0.55", "size": 484, "filled": false, "stroke": "#000000", "strokeWidth": 2.5, "opacity": 1},
      "encoding": {
        "x": {"field": "t2", "type": "quantitative", "scale": {"domain": [0, 2.5], "nice": false, "zero": false}, "axis": null},
        "y": {"field": "v2", "type": "quantitative", "scale": {"domain": [-50, 40], "nice": false, "zero": false}, "axis": null},
        "angle": {"field": "heading", "type": "quantitative", "scale": null}
      }
    },
    {
      "data": {"name": "boxes"},
      "mark": {"type": "rect", "fill": "transparent", "stroke": "#000000", "strokeWidth": 2.5},
      "encoding": {
        "x": {"field": "t", "type": "quantitative", "scale": {"domain": [0, 2.5], "nice": false, "zero": false}, "axis": null},
        "y": {"field": "v", "type": "quantitative", "scale": {"domain": [-50, 40], "nice": false, "zero": false}, "axis": null},
        "x2": {"field": "t2"},
        "y2": {"field": "v2"}
      }
    },
    {
      "data": {"name": "notes"},
      "transform": [{"filter": "datum.line == 1"}],
      "mark": {"type": "text", "align": "left", "baseline": "alphabetic", "font": "Liberation Sans", "fontSize": 18, "color": "#000000"},
      "encoding": {
        "x": {"field": "t", "type": "quantitative", "scale": {"domain": [0, 2.5], "nice": false, "zero": false}, "axis": null},
        "y": {"field": "v", "type": "quantitative", "scale": {"domain": [-50, 40], "nice": false, "zero": false}, "axis": null},
        "text": {"field": "txt"}
      }
    },
    {
      "data": {"name": "notes"},
      "transform": [{"filter": "datum.line == 2"}],
      "mark": {"type": "text", "align": "right", "baseline": "alphabetic", "font": "Liberation Sans", "fontSize": 18, "color": "#000000"},
      "encoding": {
        "x": {"field": "t", "type": "quantitative", "scale": {"domain": [0, 2.5], "nice": false, "zero": false}, "axis": null},
        "y": {"field": "v", "type": "quantitative", "scale": {"domain": [-50, 40], "nice": false, "zero": false}, "axis": null},
        "text": {"field": "txt"}
      }
    }
  ]
}
